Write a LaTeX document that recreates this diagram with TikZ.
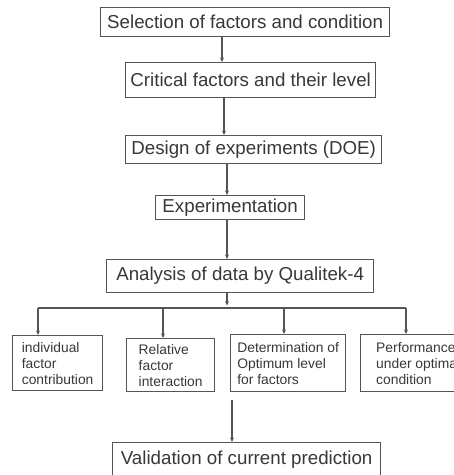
\documentclass[tikz,border=0pt]{standalone}
\usepackage{fontspec}
\setmainfont{Liberation Sans}
\usetikzlibrary{arrows.meta}
\definecolor{boxline}{HTML}{555555}
\definecolor{txt}{HTML}{383838}
\begin{document}
\begin{tikzpicture}[x=1bp,y=-1bp,
  mainbox/.style={draw=boxline, line width=1.3bp, inner sep=0pt, anchor=north west,
    text=txt, font=\fontsize{18.8}{22}\selectfont},
  subbox/.style={draw=boxline, line width=1.3bp, inner sep=0pt, anchor=north west,
    text=txt, align=left, font=\fontsize{13.9}{16}\selectfont},
  arr/.style={draw=boxline, line width=1.1bp, -{Stealth[length=4.5bp,width=4bp]}},
  ln/.style={draw=boxline, line width=1.1bp}]
\useasboundingbox (0,0) rectangle (454,475);
\fill[white] (0,0) rectangle (454,475);

\node[mainbox, minimum width=289bp, minimum height=29bp] (b1) at (100,7) {Selection of factors and condition};
\node[mainbox, minimum width=250bp, minimum height=35bp] (b2) at (125,62) {Critical factors and their level};
\node[mainbox, minimum width=256bp, minimum height=28bp] (b3) at (125,135) {Design of experiments (DOE)};
\node[mainbox, minimum width=149bp, minimum height=24bp] (b4) at (155,195) {Experimentation};
\node[mainbox, minimum width=267bp, minimum height=33bp] (b5) at (106,259) {Analysis of data by Qualitek-4};

\node[subbox, minimum width=90bp, minimum height=55bp] (sa) at (12,335) {individual\\factor\\contribution};
\node[subbox, minimum width=88bp, minimum height=53bp] (sb) at (126,338) {Relative\\factor\\interaction};
\node[subbox, minimum width=115bp, minimum height=57bp] (sc) at (230,334) {Determination of\\Optimum level\\for factors};
\node[subbox, minimum width=115bp, minimum height=57bp] (sd) at (360,334) {Performance\\under optimal\\condition};

\node[mainbox, minimum width=268bp, minimum height=34bp] (val) at (112,442) {Validation of current prediction};

\coordinate (x1) at (222,0);
\coordinate (x2) at (224,0);
\coordinate (x3) at (227,0);
\coordinate (busT) at (227,305.5);
\coordinate (busL) at (38,308);
\coordinate (br2) at (163,308);
\coordinate (br3) at (284,308);
\coordinate (busR) at (406,308);
\coordinate (vs) at (232,400);

\draw[arr] (b1.south -| x1) -- (b2.north -| x1);
\draw[arr] (b2.south -| x2) -- (b3.north -| x2);
\draw[arr] (b3.south -| x3) -- (b4.north -| x3);
\draw[arr] (b4.south -| x3) -- (b5.north -| x3);
\draw[arr] (b5.south -| x3) -- (busT);
\draw[ln] (busL) -- (busR);
\draw[arr] (busL) -- (sa.north -| busL);
\draw[arr] (br2) -- (sb.north -| br2);
\draw[arr] (br3) -- (sc.north -| br3);
\draw[arr] (busR) -- (sd.north -| busR);
\draw[arr] (vs) -- (val.north -| vs);
\end{tikzpicture}
\end{document}
